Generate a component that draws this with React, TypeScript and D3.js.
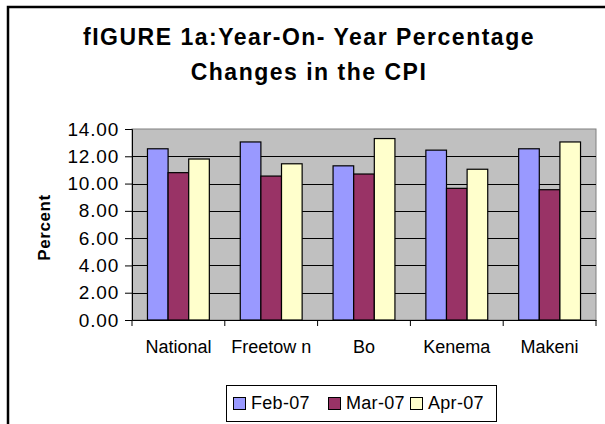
import React, { useEffect, useRef } from 'react';
import * as d3 from 'd3';

const categories = ['National', 'Freetow n', 'Bo', 'Kenema', 'Makeni'];
const seriesNames = ['Feb-07', 'Mar-07', 'Apr-07'];
const feb07 = [12.55, 13.05, 11.3, 12.45, 12.55];
const mar07 = [10.8, 10.55, 10.7, 9.65, 9.55];
const apr07 = [11.8, 11.45, 13.3, 11.05, 13.05];
const yTicks = [0, 2, 4, 6, 8, 10, 12, 14];
const colors = ['#9999FF', '#993366', '#FFFFCC'];

const W = 605;
const H = 424;
const FONT = '"Liberation Sans", Arial, sans-serif';

export default function App() {
  const ref = useRef<SVGSVGElement>(null);

  useEffect(() => {
    const svg = d3.select(ref.current);
    svg.selectAll('*').remove();

    const values = [feb07, mar07, apr07];
    const plot = { left: 132, right: 596, top: 129, bottom: 320 };

    // outer chart frame (runs off the right and bottom edge)
    svg.append('rect')
      .attr('x', 8).attr('y', 7)
      .attr('width', 620).attr('height', 440)
      .attr('fill', 'white')
      .attr('stroke', 'black')
      .attr('stroke-width', 2.5);

    // title
    const title = svg.append('text')
      .attr('text-anchor', 'middle')
      .attr('font-family', FONT)
      .attr('font-weight', 'bold')
      .attr('font-size', 23)
      .attr('letter-spacing', 1.5)
      .attr('fill', '#000');
    title.append('tspan').attr('x', 309).attr('y', 45).text('fIGURE 1a:Year-On- Year Percentage');
    title.append('tspan').attr('x', 309).attr('y', 80).text('Changes in the CPI');

    const x0 = d3.scaleBand<string>()
      .domain(categories)
      .range([plot.left, plot.right])
      .paddingInner(0)
      .paddingOuter(0);

    const x1 = d3.scaleBand<string>()
      .domain(seriesNames)
      .range([0, x0.bandwidth()])
      .paddingInner(0)
      .paddingOuter(0.75);

    const y = d3.scaleLinear()
      .domain([0, 14])
      .range([plot.bottom, plot.top]);

    // plot background
    svg.append('rect')
      .attr('x', plot.left).attr('y', plot.top)
      .attr('width', plot.right - plot.left)
      .attr('height', plot.bottom - plot.top)
      .attr('fill', '#C0C0C0')
      .attr('stroke', '#808080')
      .attr('stroke-width', 1);

    // gridlines
    svg.append('g')
      .selectAll('line')
      .data(yTicks.filter(d => d > 0 && d < 14))
      .join('line')
      .attr('x1', plot.left).attr('x2', plot.right)
      .attr('y1', d => Math.round(y(d)) + 0.5)
      .attr('y2', d => Math.round(y(d)) + 0.5)
      .attr('stroke', '#000')
      .attr('stroke-width', 1);

    // bars
    const groups = svg.append('g')
      .selectAll('g')
      .data(categories)
      .join('g')
      .attr('transform', d => `translate(${x0(d)},0)`);

    groups.selectAll('rect')
      .data((_, i) => seriesNames.map((s, j) => ({ s, v: values[j][i], c: colors[j] })))
      .join('rect')
      .attr('x', d => x1(d.s)!)
      .attr('y', d => y(d.v))
      .attr('width', x1.bandwidth())
      .attr('height', d => y(0) - y(d.v))
      .attr('fill', d => d.c)
      .attr('stroke', '#000')
      .attr('stroke-width', 1.2);

    // y axis
    const yAxis = svg.append('g')
      .attr('transform', `translate(${plot.left},0)`)
      .call(d3.axisLeft(y).tickValues(yTicks).tickFormat(d3.format('.2f')).tickSizeOuter(0).tickSize(7).tickPadding(6));
    yAxis.select('.domain').attr('stroke', '#000');
    yAxis.selectAll('line').attr('stroke', '#000');
    yAxis.selectAll('text')
      .attr('font-family', FONT)
      .attr('font-size', 19)
      .attr('letter-spacing', 0.8)
      .attr('fill', '#000');

    // x axis
    const xAxis = svg.append('g')
      .attr('transform', `translate(0,${plot.bottom})`)
      .call(d3.axisBottom(x0).tickSize(0).tickPadding(20));
    xAxis.select('.domain').attr('stroke', '#000');
    xAxis.selectAll('text')
      .attr('font-family', FONT)
      .attr('font-size', 18)
      .attr('fill', '#000');
    xAxis.append('g')
      .selectAll('line')
      .data(d3.range(categories.length + 1))
      .join('line')
      .attr('x1', i => plot.left + i * x0.step())
      .attr('x2', i => plot.left + i * x0.step())
      .attr('y1', 0).attr('y2', 6)
      .attr('stroke', '#000');

    // y label
    svg.append('text')
      .attr('transform', `translate(50,${(plot.top + plot.bottom) / 2 + 3}) rotate(-90)`)
      .attr('text-anchor', 'middle')
      .attr('font-family', FONT)
      .attr('font-weight', 'bold')
      .attr('font-size', 17)
      .attr('letter-spacing', 0.6)
      .text('Percent');

    // legend
    const lg = svg.append('g');
    lg.append('rect')
      .attr('x', 226.5).attr('y', 385.5)
      .attr('width', 270).attr('height', 36)
      .attr('fill', 'white')
      .attr('stroke', '#000')
      .attr('stroke-width', 1);
    const itemX = [233, 328, 410];
    const items = lg.selectAll('g')
      .data(seriesNames)
      .join('g')
      .attr('transform', (_, i) => `translate(${itemX[i]},397)`);
    items.append('rect')
      .attr('x', 0.5).attr('y', 0.5)
      .attr('width', 12).attr('height', 12)
      .attr('fill', (_, i) => colors[i])
      .attr('stroke', '#000');
    items.append('text')
      .attr('x', 18).attr('y', 12)
      .attr('font-family', FONT)
      .attr('font-size', 18)
      .attr('letter-spacing', 0.3)
      .text(d => d);
  }, []);

  return (
    <svg ref={ref} width={W} height={H} style={{ position: 'absolute', left: 0, top: 0, background: 'white' }} />
  );
}
